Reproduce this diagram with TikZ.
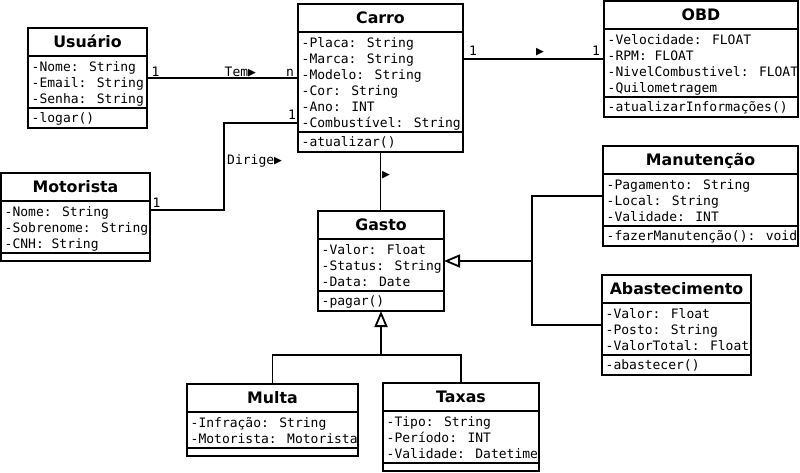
\documentclass[tikz,border=0pt]{standalone}
\usepackage{fontspec}
\usetikzlibrary{arrows.meta}

\newfontfamily\monofam{DejaVu Sans Mono}
\newfontfamily\sansfam{DejaVu Sans}
\newcommand{\attrfont}{\monofam\fontsize{13}{16}\selectfont}
\newcommand{\titlefont}{\sansfam\bfseries\fontsize{15.8}{18}\selectfont}

\tikzset{
  classbox/.style={draw, line width=1.8pt, inner sep=0pt, outer sep=0pt, anchor=north west},
  classline/.style={line width=1.8pt},
  classtitle/.style={font=\titlefont, anchor=base, inner sep=0pt},
  classattr/.style={font=\attrfont, anchor=base west, inner sep=0pt},
  lbl/.style={font=\attrfont, anchor=base west, inner sep=0pt},
  assoc/.style={line width=1.8pt},
  gen/.style={line width=1.8pt, -{Triangle[open, length=16pt, width=13pt]}}
}

% name, left, right, top, title, attributes, number of attributes, method
\newcommand{\umlclass}[8]{%
  \pgfmathsetmacro\cSepA{#4+28}
  \pgfmathsetmacro\cSepB{#4+32+16*#7}
  \ifx\relax#8\relax \pgfmathsetmacro\cBot{\cSepB+8}\else \pgfmathsetmacro\cBot{\cSepB+20}\fi
  \node[classbox, minimum width={(#3-#2)*1pt}, minimum height={(\cBot-#4)*1pt}] (#1) at (#2,#4) {};
  \draw[classline] (#2,\cSepA) -- (#3,\cSepA);
  \draw[classline] (#2,\cSepB) -- (#3,\cSepB);
  \node[classtitle] (#1-t) at ({(#2+#3)/2},{#4+19.5}) {#5};
  \foreach \a [count=\i] in {#6}
    \node[classattr] (#1-a\i) at (#2+3.5,{\cSepA+16*\i-1}) {\a};
  \ifx\relax#8\relax\else \node[classattr] (#1-m) at (#2+3.5,\cSepB+14.5) {#8};\fi
}

\begin{document}
\begin{tikzpicture}[x=1pt, y=-1pt]
  \fill[white] (0,0) rectangle (800,472);
  \useasboundingbox (0,0) rectangle (800,472);

  % Classes
  \umlclass{usuario}{28}{147}{28}{Usuário}{-Nome: String, -Email: String, -Senha: String}{3}{-logar()}
  \umlclass{carro}{298}{463}{4}{Carro}{-Placa: String, -Marca: String, -Modelo: String, -Cor: String, -Ano: INT, -Combustível: String}{6}{-atualizar()}
  \umlclass{obd}{604}{798}{1}{OBD}{-Velocidade: FLOAT, -RPM: FLOAT, -NivelCombustivel: FLOAT, -Quilometragem}{4}{-atualizarInformações()}
  \umlclass{motorista}{1}{150}{173}{Motorista}{-Nome: String, -Sobrenome: String, -CNH: String}{3}{}
  \umlclass{gasto}{318}{444}{211}{Gasto}{-Valor: Float, -Status: String, -Data: Date}{3}{-pagar()}
  \umlclass{manutencao}{603}{798}{146}{Manutenção}{-Pagamento: String, -Local: String, -Validade: INT}{3}{-fazerManutenção(): void}
  \umlclass{abastecimento}{602}{751}{275}{Abastecimento}{-Valor: Float, -Posto: String, -ValorTotal: Float}{3}{-abastecer()}
  \umlclass{multa}{187}{358}{384}{Multa}{-Infração: String, -Motorista: Motorista}{2}{}
  \umlclass{taxas}{383}{539}{383}{Taxas}{-Tipo: String, -Período: INT, -Validade: Datetime}{3}{}

  % Usuario tem Carro
  \draw[assoc] (usuario.east) -- (usuario.east -| carro.west);
  \node[lbl] (tem-1) at (151.5,76) {1};
  \node[lbl] (tem) at (224.5,76) {Tem▶};
  \node[lbl] (tem-n) at (286,76) {n};

  % Motorista dirige Carro
  \coordinate (dirige-bend) at (224,123);
  \draw[assoc] ([yshift=7pt]motorista.east) -| (dirige-bend) -- (dirige-bend -| carro.west);
  \node[lbl] (dirige-1a) at (152.5,207) {1};
  \node[lbl] (dirige-1b) at (288,119.5) {1};
  \node[lbl] (dirige) at (227,164) {Dirige▶};

  % Carro - OBD
  \draw[assoc] (obd.west) -- (obd.west -| carro.east);
  \node[lbl] (obd-1a) at (469,55) {1};
  \node[lbl] (obd-dir) at (536,55) {▶};
  \node[lbl] (obd-1b) at (592,55) {1};

  % Carro - Gasto
  \draw[assoc] (carro.south) -- (carro.south |- gasto.north);
  \node[lbl] (gasto-dir) at (382,178) {▶};

  % Heranca: Multa e Taxas
  \coordinate (gen-join) at (381,355);
  \draw[gen] (multa.north) |- (gen-join) -- (gasto.south);
  \draw[assoc] (taxas.north) |- (gen-join);

  % Heranca: Manutencao e Abastecimento
  \coordinate (spec-join) at (532,261);
  \draw[gen] (manutencao.west) -| (spec-join) -- (gasto.east);
  \draw[assoc] (abastecimento.west) -| (spec-join);
\end{tikzpicture}
\end{document}
